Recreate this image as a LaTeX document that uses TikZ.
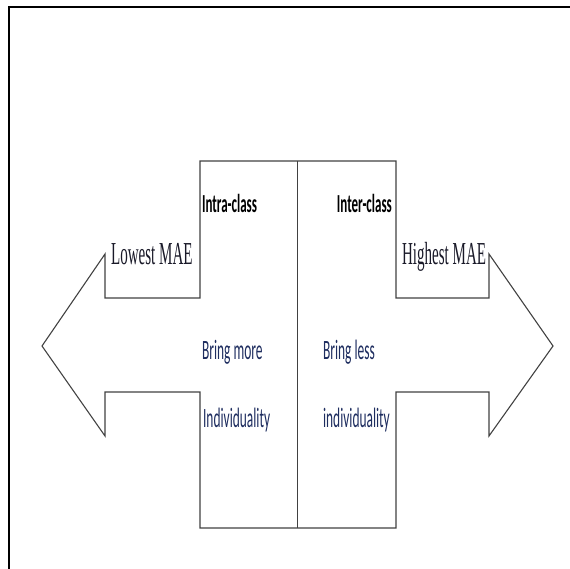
\documentclass[tikz,border=0pt]{standalone}
\usepackage{fontspec}
\setmainfont{Liberation Serif}
\setsansfont{Carlito}
\usepackage{tikz}
\usepackage{xcolor}
\usetikzlibrary{positioning,calc}
\definecolor{navy}{RGB}{30,45,95}
\definecolor{ink}{RGB}{25,25,40}
\definecolor{edge}{RGB}{65,65,65}

\begin{document}
\begin{tikzpicture}[x=1pt, y=-1pt,
  outline/.style={draw=edge, line width=1.1pt, line join=miter},
  sans/.style={font=\sffamily\fontsize{28}{32}\selectfont, xscale=0.48, inner sep=0pt, text=navy},
  sansb/.style={font=\sffamily\bfseries\fontsize{26}{30}\selectfont, xscale=0.5, inner sep=0pt},
  serif/.style={font=\rmfamily\fontsize{32}{36}\selectfont, xscale=0.47, inner sep=0pt, text=ink}
]
\useasboundingbox (0,0) rectangle (570,569);
% outer frame, only top and left show
\draw[line width=2.2pt] (9,569) -- (9,7) -- (570,7);
% the double arrow
\draw[outline] (200,161) -- (396,161) -- (396,298) -- (489,298) -- (489,254) -- (553,346)
  -- (489,436) -- (489,392) -- (396,392) -- (396,528) -- (200,528) -- (200,392)
  -- (105,392) -- (105,436) -- (42,346) -- (105,254) -- (105,298) -- (200,298) -- cycle;
\draw[edge, line width=1pt] (297,161) -- (297,528);
% labels
\node[sansb, anchor=base west] (intra) at (202,213) {Intra-class};
\node[sansb, anchor=base east] (inter) at (392,213) {Inter-class};
\node[serif, anchor=base west] (lowest) at (111,265) {Lowest MAE};
\node[serif, anchor=base west] (highest) at (402,265) {Highest MAE};
\node[sans, anchor=base west] (more) at (202,359) {Bring more};
\node[sans, anchor=base west] (indivA) at (203,427) {Individuality};
\node[sans, anchor=base west] (less) at (323,359) {Bring less};
\node[sans, anchor=base west] (indivB) at (323,427) {individuality};
\end{tikzpicture}
\end{document}
